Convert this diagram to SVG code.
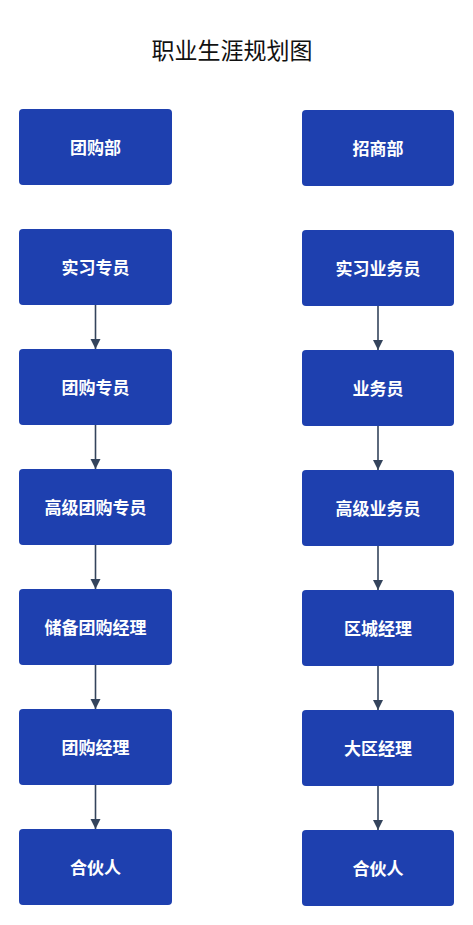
<svg xmlns="http://www.w3.org/2000/svg" width="473" height="925" viewBox="0 0 473 925">
<defs>
<style>
.box{fill:#1e40af;}
.lbl{fill:#ffffff;font-family:"Noto Sans CJK SC","Noto Sans",sans-serif;font-size:17px;font-weight:bold;text-anchor:middle;}
.title{fill:#111111;font-family:"Noto Sans CJK SC","Noto Sans",sans-serif;font-size:23px;text-anchor:middle;}
.edge{stroke:#34445c;stroke-width:1.6;fill:none;marker-end:url(#arr);}
</style>
<marker id="arr" viewBox="0 0 10 12" refX="10" refY="6" markerWidth="10" markerHeight="12" markerUnits="userSpaceOnUse" orient="auto">
<path d="M0,1 L10,6 L0,11 z" fill="#34445c"/>
</marker>
</defs>
<rect width="473" height="925" fill="#ffffff"/>
<text class="title" x="232" y="59">职业生涯规划图</text>
<g id="connectors">
<line class="edge" x1="95.5" y1="305" x2="95.5" y2="349"/>
<line class="edge" x1="95.5" y1="425" x2="95.5" y2="469"/>
<line class="edge" x1="95.5" y1="545" x2="95.5" y2="589"/>
<line class="edge" x1="95.5" y1="665" x2="95.5" y2="709"/>
<line class="edge" x1="95.5" y1="785" x2="95.5" y2="829"/>
<line class="edge" x1="378" y1="306" x2="378" y2="350"/>
<line class="edge" x1="378" y1="426" x2="378" y2="470"/>
<line class="edge" x1="378" y1="546" x2="378" y2="590"/>
<line class="edge" x1="378" y1="666" x2="378" y2="710"/>
<line class="edge" x1="378" y1="786" x2="378" y2="830"/>
</g>
<g id="n-tuangoubu"><rect class="box" x="19" y="109" width="153" height="76" rx="4"/><text class="lbl" x="95.5" y="154">团购部</text></g>
<g id="n-shixizhuanyuan"><rect class="box" x="19" y="229" width="153" height="76" rx="4"/><text class="lbl" x="95.5" y="274">实习专员</text></g>
<g id="n-tuangouzhuanyuan"><rect class="box" x="19" y="349" width="153" height="76" rx="4"/><text class="lbl" x="95.5" y="394">团购专员</text></g>
<g id="n-gaojituangou"><rect class="box" x="19" y="469" width="153" height="76" rx="4"/><text class="lbl" x="95.5" y="514">高级团购专员</text></g>
<g id="n-chubei"><rect class="box" x="19" y="589" width="153" height="76" rx="4"/><text class="lbl" x="95.5" y="634">储备团购经理</text></g>
<g id="n-tuangoujingli"><rect class="box" x="19" y="709" width="153" height="76" rx="4"/><text class="lbl" x="95.5" y="754">团购经理</text></g>
<g id="n-hehuoren-l"><rect class="box" x="19" y="829" width="153" height="76" rx="4"/><text class="lbl" x="95.5" y="874">合伙人</text></g>
<g id="n-zhaoshangbu"><rect class="box" x="302" y="110" width="152" height="76" rx="4"/><text class="lbl" x="378" y="155">招商部</text></g>
<g id="n-shixiyewu"><rect class="box" x="302" y="230" width="152" height="76" rx="4"/><text class="lbl" x="378" y="275">实习业务员</text></g>
<g id="n-yewuyuan"><rect class="box" x="302" y="350" width="152" height="76" rx="4"/><text class="lbl" x="378" y="395">业务员</text></g>
<g id="n-gaojiyewu"><rect class="box" x="302" y="470" width="152" height="76" rx="4"/><text class="lbl" x="378" y="515">高级业务员</text></g>
<g id="n-quyu"><rect class="box" x="302" y="590" width="152" height="76" rx="4"/><text class="lbl" x="378" y="635">区城经理</text></g>
<g id="n-daqu"><rect class="box" x="302" y="710" width="152" height="76" rx="4"/><text class="lbl" x="378" y="755">大区经理</text></g>
<g id="n-hehuoren-r"><rect class="box" x="302" y="830" width="152" height="76" rx="4"/><text class="lbl" x="378" y="875">合伙人</text></g>
</svg>
